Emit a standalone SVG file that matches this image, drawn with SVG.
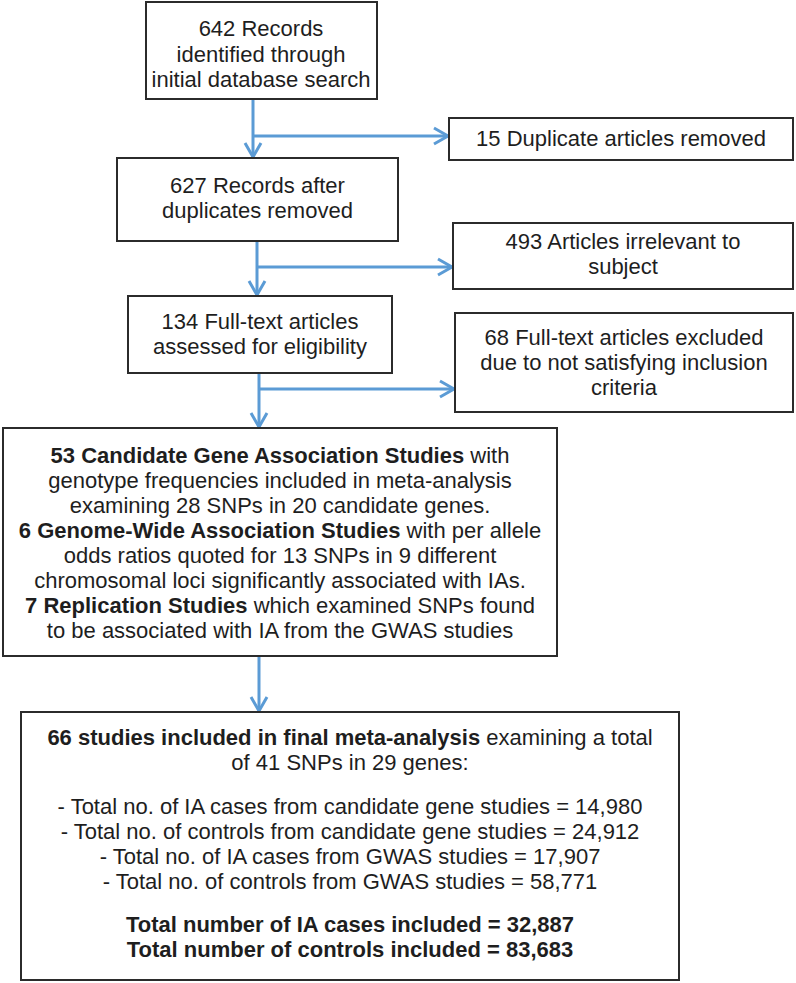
<svg xmlns="http://www.w3.org/2000/svg" width="796" height="983" viewBox="0 0 796 983">
<style>
.box{fill:#fff;stroke:#2b2b2b;stroke-width:2}
text{font-family:"Liberation Sans",Arial,sans-serif;font-size:22px;fill:#1e1e1e;text-anchor:middle}
.b{font-weight:bold}
.conn{stroke:#5B9BD5;stroke-width:3;fill:none}
</style>
<defs>
<marker id="ah" markerUnits="userSpaceOnUse" markerWidth="20" markerHeight="20" viewBox="0 0 20 20" refX="16" refY="10" orient="auto">
<path d="M2,2 L16,10 L2,18" fill="none" stroke="#5B9BD5" stroke-width="3"/>
</marker>
</defs>
<rect width="796" height="983" fill="#fff"/>
<g id="connectors">
<path class="conn" d="M253,99 V157" marker-end="url(#ah)"/>
<path class="conn" d="M253,136 H448" marker-end="url(#ah)"/>
<path class="conn" d="M257,241 V295" marker-end="url(#ah)"/>
<path class="conn" d="M257,267 H452" marker-end="url(#ah)"/>
<path class="conn" d="M259,373 V427" marker-end="url(#ah)"/>
<path class="conn" d="M259,389 H454" marker-end="url(#ah)"/>
<path class="conn" d="M259,656 V711" marker-end="url(#ah)"/>
</g>
<g id="n1">
<rect class="box" x="146" y="2" width="231" height="97"/>
<text x="261" y="36">642 Records</text>
<text x="261" y="61.5">identified through</text>
<text x="261" y="87">initial database search</text>
</g>
<g id="n2">
<rect class="box" x="449" y="118" width="344" height="42"/>
<text x="621" y="146">15 Duplicate articles removed</text>
</g>
<g id="n3">
<rect class="box" x="117" y="158" width="281" height="83"/>
<text x="257.5" y="193">627 Records after</text>
<text x="257.5" y="218">duplicates removed</text>
</g>
<g id="n4">
<rect class="box" x="453" y="223" width="340" height="66"/>
<text x="623" y="249">493 Articles irrelevant to</text>
<text x="623" y="274">subject</text>
</g>
<g id="n5">
<rect class="box" x="128" y="296" width="264" height="77"/>
<text x="260" y="329">134 Full-text articles</text>
<text x="260" y="354">assessed for eligibility</text>
</g>
<g id="n6">
<rect class="box" x="455" y="313" width="338" height="99"/>
<text x="624" y="345">68 Full-text articles excluded</text>
<text x="624" y="370">due to not satisfying inclusion</text>
<text x="624" y="395">criteria</text>
</g>
<g id="n7">
<rect class="box" x="3" y="428" width="554" height="228"/>
<text x="280" y="463"><tspan class="b">53 Candidate Gene Association Studies</tspan> with</text>
<text x="280" y="488">genotype frequencies included in meta-analysis</text>
<text x="280" y="513">examining 28 SNPs in 20 candidate genes.</text>
<text x="280" y="538"><tspan class="b">6 Genome-Wide Association Studies</tspan> with per allele</text>
<text x="280" y="563">odds ratios quoted for 13 SNPs in 9 different</text>
<text x="280" y="588">chromosomal loci significantly associated with IAs.</text>
<text x="280" y="613"><tspan class="b">7 Replication Studies</tspan> which examined SNPs found</text>
<text x="280" y="638">to be associated with IA from the GWAS studies</text>
</g>
<g id="n8">
<rect class="box" x="21" y="712" width="658" height="268"/>
<text x="350" y="745"><tspan class="b">66 studies included in final meta-analysis</tspan> examining a total</text>
<text x="350" y="770">of 41 SNPs in 29 genes:</text>
<text x="350" y="814">- Total no. of IA cases from candidate gene studies = 14,980</text>
<text x="350" y="839">- Total no. of controls from candidate gene studies = 24,912</text>
<text x="350" y="864">- Total no. of IA cases from GWAS studies = 17,907</text>
<text x="350" y="889">- Total no. of controls from GWAS studies = 58,771</text>
<text x="350" y="932" class="b">Total number of IA cases included = 32,887</text>
<text x="350" y="957" class="b">Total number of controls included = 83,683</text>
</g>
</svg>
